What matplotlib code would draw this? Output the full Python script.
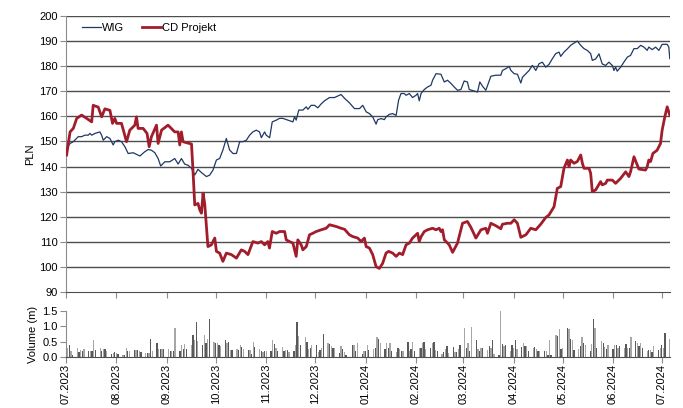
import numpy as np
import pandas as pd
import matplotlib
matplotlib.use("Agg")
import matplotlib.pyplot as plt
import matplotlib.dates as mdates

plt.rcParams['font.family'] = ['Liberation Sans', 'DejaVu Sans']

# x values are days after the first session (03.07.2023)
start = pd.Timestamp('2023-07-03')

cdr_days = [0.4, 2.5, 4.5, 6.6, 9.6, 12.7, 15.8, 16.7, 19.8, 21.9, 23.9, 27.0, 28.6, 30.0, 31.1, 34.1,
            37.2, 39.2, 42.3, 43.3, 44.3, 47.4, 49.8, 51.1, 52.5, 55.6, 56.6, 58.7, 62.7, 66.8, 68.9,
            69.9, 70.9, 71.9, 74.0, 77.1, 78.0, 79.1, 81.1, 82.2, 83.2, 84.2, 85.2, 87.2, 89.3, 91.4,
            92.4, 94.4, 96.4, 98.5, 101.6, 104.7, 107.7, 109.7, 111.8, 114.8, 117.9, 120.0, 122.0,
            124.0, 125.0, 126.7, 129.2, 131.2, 134.3, 135.3, 137.3, 139.4, 141.4, 142.4, 144.5, 145.5,
            147.6, 149.6, 151.6, 153.7, 156.8, 159.8, 161.9, 166.0, 169.0, 171.1, 174.1, 176.1, 179.2,
            181.3, 183.3, 184.4, 186.4, 188.4, 190.5, 192.5, 194.5, 196.6, 198.2, 200.7, 202.8, 204.8,
            206.8, 208.9, 210.9, 212.9, 215.0, 216.0, 217.0, 218.1, 220.1, 222.1, 225.2, 227.3, 229.3,
            230.3, 231.3, 232.4, 234.4, 235.4, 237.5, 240.5, 243.6, 246.6, 248.7, 251.8, 254.9, 257.9,
            258.9, 261.0, 264.1, 267.1, 268.1, 271.2, 273.3, 275.3, 277.3, 279.4, 282.5, 285.5, 288.6,
            291.6, 294.7, 296.7, 299.8, 301.8, 303.9, 305.9, 308.0, 309.0, 310.0, 312.1, 314.1, 316.2,
            317.2, 318.2, 321.3, 322.3, 323.3, 325.4, 328.4, 329.4, 331.5, 332.5, 335.6, 337.6, 340.7,
            343.8, 345.8, 346.8, 348.9, 351.9, 356.0, 357.0, 358.0, 359.1, 360.5, 363.1, 365.2, 366.2,
            367.9, 369.3, 370.9]
cdr_vals = [144.6, 153.8, 155.2, 159.2, 160.5, 159.2, 157.8, 164.4, 163.7, 159.8, 163.0, 162.4, 157.2,
            159.2, 157.2, 157.2, 149.9, 154.5, 156.5, 159.8, 155.2, 155.2, 153.2, 147.9, 151.9, 156.5,
            149.2, 154.5, 156.5, 153.8, 153.8, 148.6, 153.8, 149.9, 149.5, 149.0, 138.6, 124.7, 125.3,
            122.7, 121.4, 129.4, 125.3, 108.1, 108.8, 111.5, 106.2, 105.5, 102.2, 105.5, 104.9, 103.5,
            106.8, 106.2, 104.9, 110.1, 109.5, 110.1, 108.8, 110.1, 107.5, 114.1, 113.4, 114.1, 114.1,
            110.8, 110.1, 109.5, 104.2, 110.8, 108.8, 106.8, 108.1, 112.8, 113.4, 114.1, 114.8, 115.4,
            116.8, 116.1, 115.4, 115.0, 112.8, 112.1, 111.5, 110.1, 111.5, 108.1, 107.5, 104.9, 100.1,
            99.4, 101.4, 105.5, 106.2, 105.5, 104.2, 105.5, 104.9, 108.8, 109.5, 111.5, 112.8, 113.4,
            110.1, 112.0, 114.1, 114.8, 115.4, 114.8, 115.4, 114.1, 114.8, 110.8, 109.5, 108.8, 105.8,
            109.5, 117.4, 118.1, 115.8, 111.5, 114.8, 115.4, 113.4, 117.4, 116.4, 115.2, 117.0, 117.4,
            117.4, 118.8, 117.4, 111.8, 112.8, 115.4, 114.8, 117.0, 119.7, 120.7, 124.0, 131.3, 132.0,
            139.3, 142.6, 139.9, 142.6, 141.3, 142.0, 144.6, 141.3, 139.3, 139.3, 137.3, 130.0, 130.7,
            134.0, 132.7, 133.3, 134.6, 134.6, 133.3, 135.3, 137.9, 136.0, 137.9, 143.9, 139.0, 138.6,
            139.9, 142.6, 142.0, 145.2, 146.5, 149.2, 154.5, 160.0, 163.8, 160.5]

wig_days = [0.4, 2.5, 4.5, 7.5, 9.6, 11.6, 13.7, 14.7, 15.8, 17.8, 20.8, 21.9, 22.9, 25.0, 27.0, 29.0,
            30.0, 32.1, 34.1, 36.2, 38.2, 41.3, 45.4, 48.4, 50.5, 52.5, 54.6, 56.6, 58.2, 60.7, 63.8,
            66.8, 68.9, 70.9, 72.9, 75.0, 77.1, 79.1, 81.1, 83.2, 86.3, 88.3, 90.3, 92.4, 94.4, 96.4,
            98.5, 100.5, 102.6, 104.7, 106.7, 108.7, 110.8, 112.8, 114.8, 116.9, 118.9, 120.0, 122.0,
            123.0, 125.1, 126.7, 129.2, 131.2, 133.2, 136.3, 139.4, 140.4, 141.4, 143.0, 145.5, 147.6,
            148.6, 150.6, 152.7, 154.7, 156.8, 158.8, 161.9, 164.9, 169.0, 171.1, 174.1, 177.2, 180.3,
            182.3, 184.4, 186.4, 188.4, 190.5, 191.5, 193.6, 195.6, 196.6, 198.6, 200.7, 202.8, 204.3,
            205.8, 207.8, 208.9, 210.9, 212.9, 215.0, 216.0, 217.0, 218.1, 220.1, 222.1, 224.2, 225.2,
            227.3, 230.3, 232.4, 234.4, 236.5, 238.5, 240.5, 242.6, 244.6, 246.6, 247.7, 250.8, 252.8,
            254.2, 255.9, 257.9, 261.0, 264.1, 267.1, 268.1, 270.2, 272.2, 273.3, 275.3, 277.3, 279.4,
            280.4, 282.5, 284.5, 286.5, 288.6, 290.6, 292.6, 294.7, 296.7, 298.8, 300.8, 302.9, 303.9,
            305.9, 308.0, 310.0, 312.1, 314.1, 316.2, 318.2, 320.2, 322.3, 323.3, 325.4, 327.4, 328.4,
            329.4, 331.5, 333.5, 335.6, 336.6, 337.6, 338.6, 340.7, 342.7, 344.8, 346.8, 348.9, 350.9,
            353.0, 355.0, 357.0, 358.0, 360.1, 362.2, 364.2, 366.2, 369.3, 370.3, 370.9]
wig_vals = [147.2, 149.2, 149.9, 151.9, 151.9, 152.5, 152.5, 153.2, 152.5, 153.2, 153.8, 152.5, 150.5,
            151.9, 151.2, 148.6, 149.9, 150.5, 149.9, 147.9, 145.2, 145.5, 144.2, 145.9, 146.8, 146.5,
            145.5, 143.2, 140.2, 141.9, 141.9, 143.2, 141.0, 143.2, 141.0, 140.5, 139.3, 136.6, 138.9,
            137.6, 136.0, 136.6, 138.6, 142.6, 143.2, 146.6, 151.2, 146.6, 145.2, 145.2, 149.9, 149.9,
            150.5, 152.5, 153.8, 154.5, 153.8, 151.5, 153.8, 152.5, 151.5, 157.8, 158.5, 159.2, 159.2,
            158.5, 157.8, 159.8, 158.5, 162.5, 162.5, 163.8, 162.8, 164.4, 164.4, 163.4, 165.0, 166.2,
            167.5, 167.5, 168.7, 167.2, 165.4, 163.1, 163.1, 164.4, 161.8, 161.1, 159.8, 156.9, 158.7,
            159.1, 158.7, 159.8, 160.8, 161.1, 160.4, 166.4, 169.1, 169.1, 168.4, 169.1, 167.5, 168.4,
            169.1, 166.2, 169.1, 170.7, 171.7, 172.4, 174.4, 177.0, 176.8, 173.7, 174.4, 173.1, 171.7,
            170.4, 170.7, 174.1, 173.7, 170.7, 170.1, 169.7, 173.7, 172.0, 170.4, 176.0, 176.4, 176.4,
            178.3, 179.0, 179.9, 178.3, 177.0, 176.8, 173.3, 175.6, 177.0, 178.3, 180.3, 178.3, 181.0,
            181.6, 179.6, 180.7, 183.0, 185.0, 185.6, 183.9, 185.6, 186.9, 188.3, 189.2, 190.0, 188.3,
            187.0, 186.3, 185.0, 182.3, 182.9, 184.9, 182.9, 180.9, 180.3, 181.6, 180.3, 178.3, 179.6,
            178.0, 179.6, 181.6, 183.6, 184.3, 187.0, 187.0, 188.3, 187.6, 186.3, 187.6, 186.6, 187.6,
            186.3, 188.7, 188.7, 187.6, 183.0]

# daily volume, m shares (one value per session from 03.07.2023)
volume = [0.12, 0.30, 0.38, 0.18, 0.05, 0.28, 0.15, 0.22, 0.18, 0.25, 0.20, 0.18, 0.20, 0.55, 0.22,
          0.30, 0.20, 0.25, 0.25, 0.20, 0.10, 0.12, 0.15, 0.12, 0.10, 0.05, 0.05, 0.30, 0.20, 0.20,
          0.22, 0.22, 0.22, 0.20, 0.15, 0.12, 0.12, 0.12, 0.58, 0.20, 0.45, 0.25, 0.25, 0.27, 0.27,
          0.25, 0.20, 0.20, 0.20, 0.93, 0.20, 0.38, 0.25, 0.42, 0.25, 0.40, 0.72, 0.55, 1.15, 0.52,
          0.38, 0.70, 0.45, 0.60, 1.25, 0.50, 0.45, 0.47, 0.40, 0.35, 0.55, 0.45, 0.48, 0.22, 0.22,
          0.25, 0.22, 0.40, 0.32, 0.25, 0.22, 0.22, 0.10, 0.48, 0.33, 0.25, 0.20, 0.15, 0.18, 0.20,
          0.20, 0.55, 0.42, 0.30, 0.18, 0.33, 0.20, 0.22, 0.22, 0.15, 0.20, 0.38, 1.15, 0.68, 0.40,
          0.65, 0.50, 0.25, 0.28, 0.38, 0.40, 0.15, 0.22, 0.28, 0.75, 0.45, 0.42, 0.35, 0.30, 0.30,
          0.12, 0.35, 0.25, 0.15, 0.05, 0.00, 0.38, 0.38, 0.20, 0.45, 0.10, 0.20, 0.20, 0.38, 0.22,
          0.25, 0.30, 0.65, 0.60, 0.45, 0.25, 0.45, 0.28, 0.45, 0.20, 0.15, 0.30, 0.25, 0.20, 0.20,
          0.50, 0.20, 0.25, 0.50, 0.20, 0.28, 0.30, 0.45, 0.50, 0.25, 0.30, 0.45, 0.48, 0.22, 0.20,
          0.10, 0.15, 0.25, 0.35, 0.12, 0.32, 0.15, 0.15, 0.25, 0.40, 0.93, 0.30, 0.45, 0.20, 0.97,
          0.55, 0.25, 0.20, 0.30, 0.28, 0.22, 0.35, 0.30, 0.55, 0.10, 0.05, 1.50, 0.42, 0.35, 0.38,
          0.20, 0.38, 0.30, 0.55, 0.25, 0.32, 0.45, 0.35, 0.35, 0.20, 0.28, 0.32, 0.25, 0.20, 0.18,
          0.20, 0.20, 0.05, 0.55, 0.05, 0.70, 0.68, 0.92, 0.25, 0.30, 0.95, 0.90, 0.60, 0.55, 0.22,
          0.25, 0.35, 0.65, 0.45, 0.38, 0.20, 0.42, 1.25, 0.95, 0.30, 0.52, 0.45, 0.32, 0.25, 0.38,
          0.25, 0.40, 0.40, 0.30, 0.35, 0.30, 0.42, 0.30, 0.30, 0.65, 0.52, 0.45, 0.35, 0.45, 0.30,
          0.20, 0.22, 0.22, 0.15, 0.35, 0.22, 0.28, 0.38, 0.30, 0.78, 0.58]

cdr_dates = start + pd.to_timedelta(cdr_days, unit='D')
wig_dates = start + pd.to_timedelta(wig_days, unit='D')
vol_dates = pd.bdate_range(start, periods=len(volume))

fig = plt.figure(figsize=(6.83, 4.08), dpi=100)
ax = fig.add_axes([0.0966, 0.2843, 0.8843, 0.6765])
axv = fig.add_axes([0.0966, 0.125, 0.8843, 0.113])

grid_col = '#4d4d4d'
axis_col = '#8c8c8c'
fs = 8

for y in range(100, 201, 10):
    ax.axhline(y, color=grid_col, lw=1.0, zorder=1)

ax.plot(wig_dates, wig_vals, color='#1f3864', lw=0.9, label='WIG', zorder=3)
ax.plot(cdr_dates, cdr_vals, color='#a11d2b', lw=2.0, label='CD Projekt', zorder=4)

xmin = start
xmax = start + pd.Timedelta(days=371)
ax.set_xlim(xmin, xmax)
ax.set_ylim(90, 200)
ax.set_yticks(range(90, 201, 10))
ax.set_ylabel('PLN', fontsize=fs, labelpad=3)
ax.xaxis.set_major_locator(mdates.MonthLocator(bymonthday=3))
ax.tick_params(axis='x', labelbottom=False, length=4, color=axis_col, direction='out')
ax.tick_params(axis='y', labelsize=fs, length=4, color=axis_col, pad=2)
for s in ['top', 'right']:
    ax.spines[s].set_visible(False)
ax.spines['left'].set_color(axis_col)
ax.spines['bottom'].set_color(grid_col)

leg = ax.legend(loc='upper left', bbox_to_anchor=(0.015, 1.0), ncol=2, frameon=False,
                fontsize=fs, handlelength=1.7, handletextpad=0.1, columnspacing=1.6,
                borderaxespad=0.25)

# volume bars, alternating two greys
bar_cols = ['#595959' if i % 2 == 0 else '#a6a6a6' for i in range(len(volume))]
axv.bar(vol_dates, volume, width=0.8, color=bar_cols, linewidth=0)
axv.set_xlim(xmin, xmax)
axv.set_ylim(0, 1.5)
axv.set_yticks([0.0, 0.5, 1.0, 1.5])
axv.set_yticklabels(['0.0', '0.5', '1.0', '1.5'])
axv.set_ylabel('Volume (m)', fontsize=fs, labelpad=3)
axv.xaxis.set_major_locator(mdates.MonthLocator(bymonthday=3))
axv.xaxis.set_major_formatter(mdates.DateFormatter('%m.%Y'))
axv.tick_params(axis='x', labelsize=fs, rotation=90, length=4, color=axis_col, pad=1)
axv.tick_params(axis='y', labelsize=fs, length=4, color=axis_col, pad=2)
for s in ['top', 'right']:
    axv.spines[s].set_visible(False)
axv.spines['left'].set_color(axis_col)
axv.spines['bottom'].set_color(grid_col)

fig.savefig('out.png', dpi=100)
